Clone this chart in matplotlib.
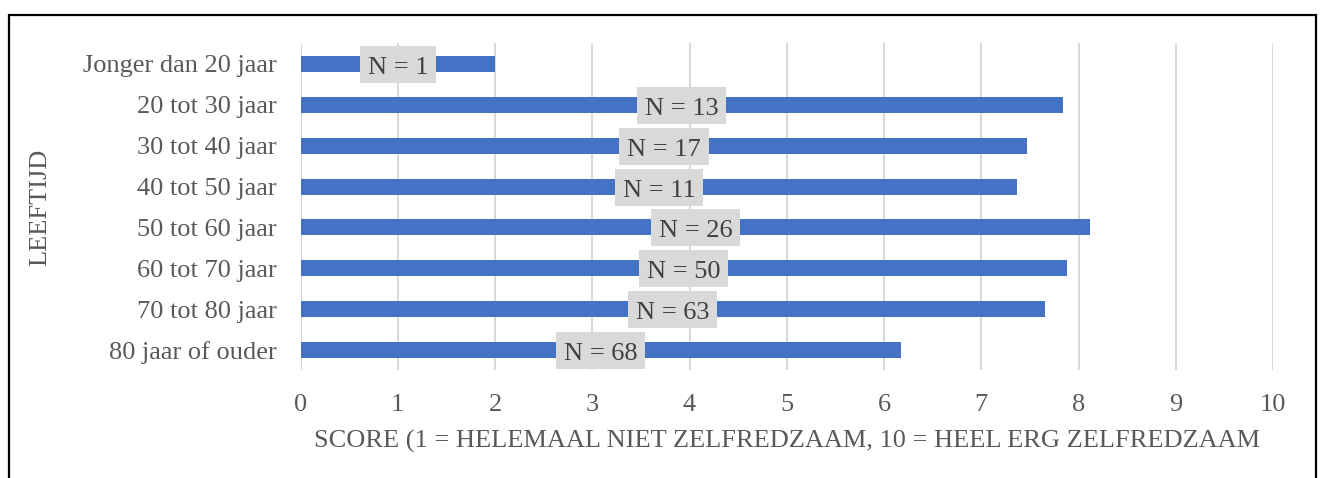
import matplotlib.pyplot as plt
from matplotlib.patches import Rectangle
from matplotlib.path import Path

# Data
categories = ['Jonger dan 20 jaar', '20 tot 30 jaar', '30 tot 40 jaar', '40 tot 50 jaar',
              '50 tot 60 jaar', '60 tot 70 jaar', '70 tot 80 jaar', '80 jaar of ouder']
scores = [2.0, 7.84, 7.47, 7.37, 8.12, 7.88, 7.65, 6.17]
counts = [1, 13, 17, 11, 26, 50, 63, 68]

plt.rcParams['font.family'] = ['Liberation Serif', 'DejaVu Serif']
text_color = '#595959'
fs = 19


def label_box(x0, y0, width, height, mutation_size):
    # rectangle with uneven padding (like Excel data labels)
    px = 0.30 * mutation_size
    x0, x1 = x0 - px, x0 + width + px
    y0, y1 = y0 - 0.15 * mutation_size, y0 + height + 0.42 * mutation_size
    return Path([(x0, y0), (x1, y0), (x1, y1), (x0, y1), (x0, y0)], closed=True)


fig = plt.figure(figsize=(13.21, 4.78), dpi=100)
ax = fig.add_axes([0.2275, 0.225, 0.9637 - 0.2275, 0.684])

y = list(range(len(categories)))[::-1]
ax.barh(y, scores, height=0.39, color='#4472C4', zorder=2)

for yi, s, n in zip(y, scores, counts):
    ax.text(s / 2, yi - 0.1, f'N = {n}', ha='center', va='center', fontsize=fs,
            color='#404040', zorder=3,
            bbox=dict(boxstyle=label_box, fc='#D9D9D9', ec='none'))

ax.set_xlim(0, 10)
ax.set_ylim(-0.5, len(categories) - 0.5)
ax.set_xticks(range(11))
ax.set_yticks(y)
ax.set_yticklabels(categories)
ax.grid(axis='x', color='#D9D9D9', linewidth=1.5, zorder=0)
for sp in ax.spines.values():
    sp.set_visible(False)
ax.tick_params(axis='both', length=0, labelsize=fs, labelcolor=text_color)
ax.tick_params(axis='x', pad=17)
ax.tick_params(axis='y', pad=17)

ax.set_xlabel('SCORE (1 = HELEMAAL NIET ZELFREDZAAM, 10 = HEEL ERG ZELFREDZAAM',
              fontsize=fs, color=text_color, labelpad=10)
fig.text(40 / 1321, 1 - 207 / 478, 'LEEFTIJD', rotation=90, ha='center', va='center',
         fontsize=fs, color=text_color)

# outer frame (bottom edge cut off in the reference)
fig.patches.append(Rectangle((8.5 / 1321, -0.1), (1316 - 8.5) / 1321, 1.1 - 15.5 / 478,
                             transform=fig.transFigure, fill=False, ec='black',
                             lw=1.6, clip_on=False))

fig.savefig('out.png', dpi=100)
